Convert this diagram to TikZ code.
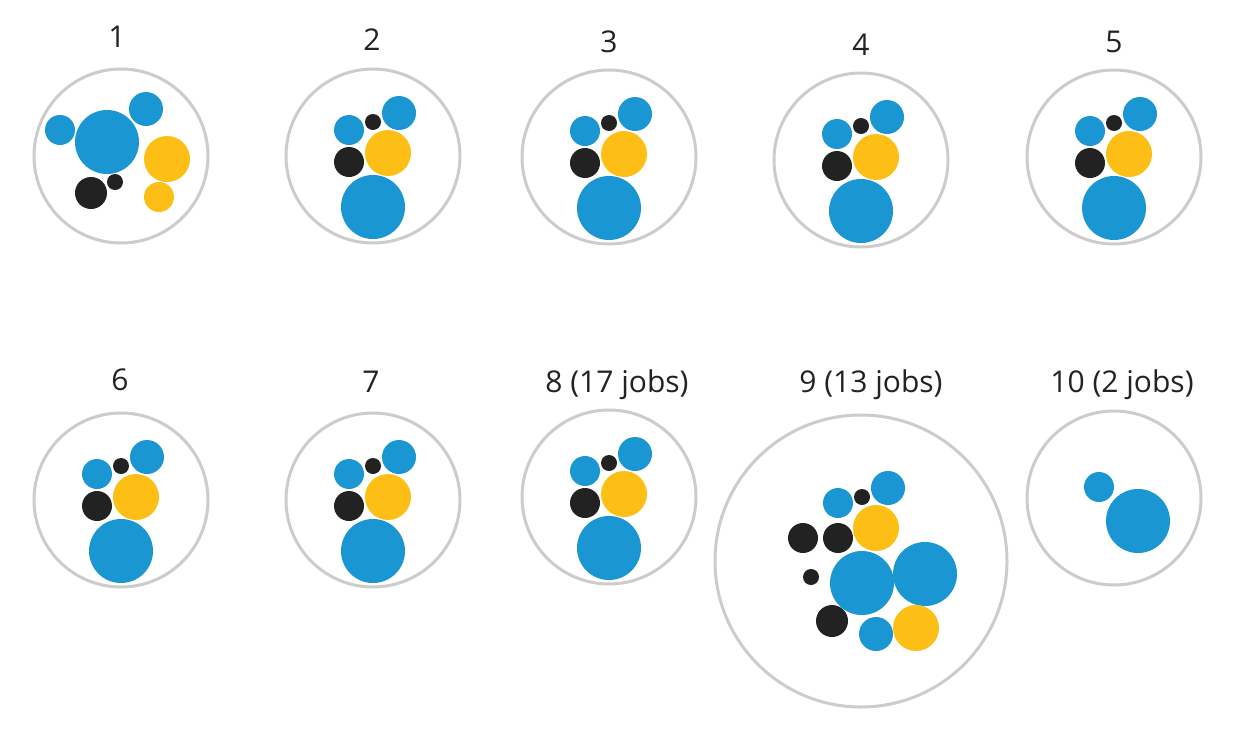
\documentclass[tikz,border=0pt]{standalone}
\usepackage{fontspec}
\setmainfont{Open Sans}
\definecolor{cb}{HTML}{1A96D3}
\definecolor{cy}{HTML}{FDBF16}
\definecolor{ck}{HTML}{222222}
\definecolor{cg}{HTML}{CCCCCC}
\begin{document}
\begin{tikzpicture}[x=1pt,y=-1pt,
  ring/.style={draw=cg,line width=3pt,fill=white},
  lbl/.style={font=\fontsize{30}{36}\selectfont,text=ck},
  B/.style={fill=cb},Y/.style={fill=cy},K/.style={fill=ck}]
\useasboundingbox (0,0) rectangle (1250,734);
\newcommand\grp[3]{%
  \draw[ring] (#1,#2) circle (87);
  \begin{scope}[shift={(#1,#2)}]
  \fill[B] (-24,-26) circle (15);
  \fill[K] (0,-34) circle (8);
  \fill[B] (26,-43) circle (17);
  \fill[K] (-24,6) circle (15);
  \fill[Y] (15,-3) circle (23);
  \fill[B] (0,51) circle (32);
  \end{scope}
  \node[lbl] at (#1,#3) {};}
% circle 1
\draw[ring] (121,156) circle (87);
\fill[B] (107,142) circle (32);
\fill[B] (60,130) circle (15);
\fill[B] (146,109) circle (17);
\fill[Y] (167,159) circle (23);
\fill[Y] (159,197) circle (15);
\fill[K] (91,193) circle (16);
\fill[K] (115,182) circle (8);
\grp{373}{156}{0}
\grp{609}{157}{0}
\grp{861}{160}{0}
\grp{1114}{157}{0}
\grp{121}{500}{0}
\grp{373}{500}{0}
\grp{609}{497}{0}
% circle 9
\draw[ring] (861,561) circle (146);
\fill[B] (838,503) circle (15);
\fill[K] (862,497) circle (8);
\fill[B] (888,488) circle (17);
\fill[K] (803,538) circle (15);
\fill[K] (838,538) circle (15);
\fill[Y] (876,528) circle (23);
\fill[K] (811,577) circle (8);
\fill[B] (862,583) circle (32);
\fill[B] (925,574) circle (32);
\fill[K] (832,621) circle (16);
\fill[B] (876,634) circle (17);
\fill[Y] (916,628) circle (23);
% circle 10
\draw[ring] (1114,498) circle (87);
\fill[B] (1099,487) circle (15);
\fill[B] (1138,521) circle (32);
% labels
\node[lbl] (l1) at (117,37) {1};
\node[lbl] (l2) at (372,40) {2};
\node[lbl] (l3) at (609,42) {3};
\node[lbl] (l4) at (861,45) {4};
\node[lbl] (l5) at (1114,42) {5};
\node[lbl] (l6) at (120,380) {6};
\node[lbl] (l7) at (371,382) {7};
\node[lbl] (l8) at (617,385) {8 (17 jobs)};
\node[lbl] (l9) at (871,385) {9 (13 jobs)};
\node[lbl] (l10) at (1122,385) {10 (2 jobs)};
\end{tikzpicture}
\end{document}
